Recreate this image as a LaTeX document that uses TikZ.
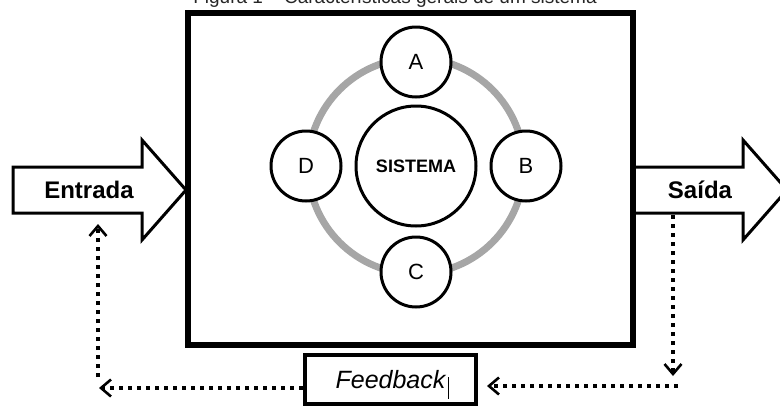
\documentclass[tikz,border=0pt]{standalone}
\usepackage{fontspec}
\setmainfont{Liberation Sans}
\usetikzlibrary{arrows.meta}

\tikzset{
  blockarrow/.style={draw=black, fill=white, line width=3, line join=miter},
  sysbox/.style={draw=black, fill=white, line width=6, line join=miter},
  bigcircle/.style={circle, draw=black, fill=white, line width=3, minimum size=120, inner sep=0},
  partcircle/.style={circle, draw=black, fill=white, line width=3, minimum size=70, inner sep=0, font=\fontsize{22}{24}\selectfont},
  ring/.style={draw=black!35, line width=7},
  feedbox/.style={draw=black, fill=white, line width=4.5, minimum width=171, minimum height=49, inner sep=0, font=\fontsize{25}{27}\selectfont\itshape},
  flowlabel/.style={font=\fontsize{24}{26}\selectfont\bfseries},
  dotline/.style={draw=black, line width=3.6, dash pattern=on 3.6 off 5.4,
    -{Straight Barb[length=10, width=17, line width=2.6]}},
}

\begin{document}
\begin{tikzpicture}[x=1pt, y=-1pt]
  \useasboundingbox (0,0) rectangle (780,408);
  \clip (0,0) rectangle (780,408);

  % caption line, cut at the top edge
  \node[anchor=base, inner sep=0, font=\fontsize{19}{21}\selectfont, text=black!85] (caption) at (395,3.5)
    {Figura 1 -- Características gerais de um sistema};

  % input and output block arrows
  \draw[blockarrow] (13,167) -- (142,167) -- (142,140) -- (186,190) -- (142,240) -- (142,213) -- (13,213) -- cycle;
  \draw[blockarrow] (633,167) -- (743,167) -- (743,140) -- (787,190) -- (743,240) -- (743,213) -- (633,213) -- cycle;
  \node[flowlabel] (entrada) at (89,190) {Entrada};
  \node[flowlabel] (saida) at (700,190) {Saída};

  % the system frame
  \draw[sysbox] (188,13) rectangle (633,345);

  % components around the system core
  \coordinate (core) at (416,166);
  \draw[ring] (core) circle (108);
  \node[bigcircle, font=\fontsize{18}{20}\selectfont\bfseries] (sistema) at (core) {SISTEMA};
  \node[partcircle] (A) at (416,62) {A};
  \node[partcircle] (B) at (526,166) {B};
  \node[partcircle] (C) at (416,272) {C};
  \node[partcircle] (D) at (306,166) {D};

  % feedback loop
  \node[feedbox] (feedback) at (390.5,379.5) {Feedback};
  \draw[line width=0.8] (448,377) -- (448,399);

  \coordinate (outdrop) at (673,215);
  \coordinate (outcorner) at (673,376);
  \coordinate (backstart) at (678,386);
  \coordinate (backend) at (487,386);
  \coordinate (inend) at (99,388);
  \coordinate (instart) at (98,377);
  \coordinate (inrise) at (98,224);

  \draw[dotline] (outdrop) -- (outcorner);
  \draw[dotline] (backstart) -- (backend);
  \draw[dotline] (feedback.west |- inend) -- (inend);
  \draw[dotline] (instart) -- (inrise);
\end{tikzpicture}
\end{document}
